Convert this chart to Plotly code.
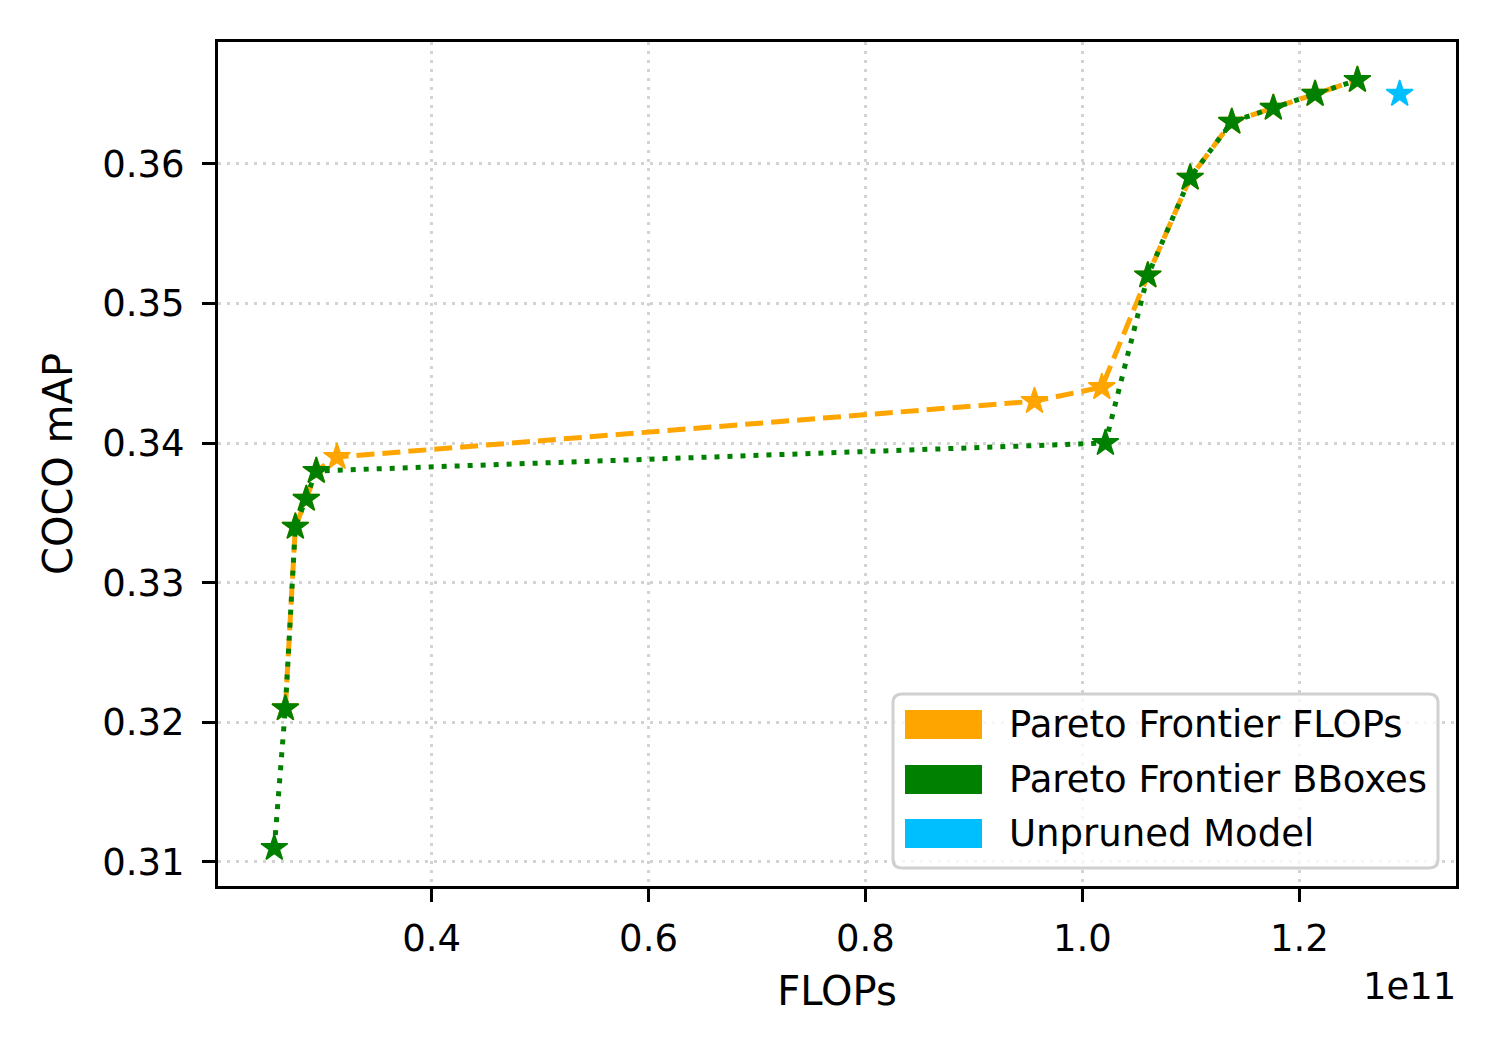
import plotly.graph_objects as go

# ---- data (FLOPs, COCO mAP) ----
flops_frontier_x = [2.652e10, 2.744e10, 2.845e10, 2.937e10, 3.128e10, 9.558e10, 10.179e10,
                    10.603e10, 10.993e10, 11.377e10, 11.760e10, 12.145e10, 12.535e10]
flops_frontier_y = [0.321, 0.334, 0.336, 0.338, 0.339, 0.343, 0.344,
                    0.352, 0.359, 0.363, 0.364, 0.365, 0.366]

bbox_frontier_x = [2.550e10, 2.652e10, 2.744e10, 2.845e10, 2.937e10, 10.212e10,
                   10.603e10, 10.993e10, 11.377e10, 11.760e10, 12.145e10, 12.535e10]
bbox_frontier_y = [0.311, 0.321, 0.334, 0.336, 0.338, 0.340,
                   0.352, 0.359, 0.363, 0.364, 0.365, 0.366]

unpruned_x = [12.925e10]
unpruned_y = [0.365]

x_tickvals = [0.4e11, 0.6e11, 0.8e11, 1.0e11, 1.2e11]
x_ticktext = ["0.4", "0.6", "0.8", "1.0", "1.2"]
y_tickvals = [0.31, 0.32, 0.33, 0.34, 0.35, 0.36]
y_ticktext = ["0.31", "0.32", "0.33", "0.34", "0.35", "0.36"]

legend_labels = ["Pareto Frontier FLOPs", "Pareto Frontier BBoxes", "Unpruned Model"]
ORANGE, GREEN, BLUE = "#FFA500", "#008000", "#00BFFF"
legend_colors = [ORANGE, GREEN, BLUE]

# ---- layout geometry (pixels, in window coordinates) ----
W, H = 1500, 1062
OFF = 8  # default page body margin
L, R, T, B = 218, 1456, 42, 886
FONT = "DejaVu Sans"
FS = 37
FS_TITLE = 40


def px(x):
    return (x - L) / (R - L)


def py(y):
    return (B - y) / (B - T)


fig = go.Figure()
fig.add_trace(go.Scatter(
    x=flops_frontier_x, y=flops_frontier_y, mode="lines+markers",
    line=dict(color=ORANGE, width=5, dash="18px,8px"),
    marker=dict(symbol="star", size=20, color=ORANGE, line=dict(color=ORANGE, width=1.5)),
    name=legend_labels[0], showlegend=False))
fig.add_trace(go.Scatter(
    x=bbox_frontier_x, y=bbox_frontier_y, mode="lines+markers",
    line=dict(color=GREEN, width=5, dash="5px,8px"),
    marker=dict(symbol="star", size=20, color=GREEN, line=dict(color=GREEN, width=1.5)),
    name=legend_labels[1], showlegend=False))
fig.add_trace(go.Scatter(
    x=unpruned_x, y=unpruned_y, mode="markers",
    marker=dict(symbol="star", size=20, color=BLUE, line=dict(color=BLUE, width=1.5)),
    name=legend_labels[2], showlegend=False))

axis_common = dict(
    showline=True, mirror=True, linecolor="black", linewidth=3,
    ticks="outside", ticklen=13, tickwidth=3, tickcolor="black",
    showgrid=True, gridcolor="#d3d3d3", gridwidth=2.5, griddash="3px,6px",
    zeroline=False, tickfont=dict(family=FONT, size=FS, color="black"),
)

fig.update_xaxes(range=[0.2031e11, 1.3444e11], tickvals=x_tickvals, ticktext=x_ticktext,
                 ticklabelstandoff=5,
                 title=dict(text="FLOPs", font=dict(family=FONT, size=FS_TITLE, color="black"), standoff=18),
                 **axis_common)
fig.update_yaxes(range=[0.30828, 0.36872], tickvals=y_tickvals, ticktext=y_ticktext,
                 ticklabelstandoff=10,
                 title=dict(text="COCO mAP", font=dict(family=FONT, size=FS_TITLE, color="black"), standoff=18),
                 **axis_common)

# ---- legend (drawn manually to get matplotlib-style patches) ----
fx0, fx1, fy0, fy1 = 893, 1438, 694, 868
r = 9
xa, xb = px(fx0), px(fx1)
ya, yb = py(fy0), py(fy1)
rx = r / (R - L)
ry = r / (B - T)
path = (f"M {xa+rx},{ya} L {xb-rx},{ya} Q {xb},{ya} {xb},{ya-ry} "
        f"L {xb},{yb+ry} Q {xb},{yb} {xb-rx},{yb} L {xa+rx},{yb} "
        f"Q {xa},{yb} {xa},{yb+ry} L {xa},{ya-ry} Q {xa},{ya} {xa+rx},{ya} Z")
shapes = [dict(type="path", path=path, xref="paper", yref="paper",
               fillcolor="rgba(255,255,255,0.8)", line=dict(color="#d0d0d0", width=3), layer="above")]
annotations = []
patch_tops = [710, 765, 819]
for lab, col, top in zip(legend_labels, legend_colors, patch_tops):
    shapes.append(dict(type="rect", xref="paper", yref="paper",
                       x0=px(905), x1=px(982), y0=py(top), y1=py(top + 29),
                       fillcolor=col, line=dict(width=0), layer="above"))
    annotations.append(dict(text=lab, xref="paper", yref="paper", x=px(1007), y=py(top + 14.5),
                            xanchor="left", yanchor="middle", showarrow=False,
                            font=dict(family=FONT, size=FS, color="black")))

annotations.append(dict(text="1e11", xref="paper", yref="paper", x=px(1458), y=py(986),
                        xanchor="right", yanchor="middle", showarrow=False,
                        font=dict(family=FONT, size=FS, color="black")))

fig.update_layout(
    width=W, height=H,
    margin=dict(l=L - OFF, r=W - R + OFF, t=T - OFF, b=H - B + OFF),
    paper_bgcolor="white", plot_bgcolor="white",
    shapes=shapes, annotations=annotations, showlegend=False,
)

fig.write_html("out.html")
